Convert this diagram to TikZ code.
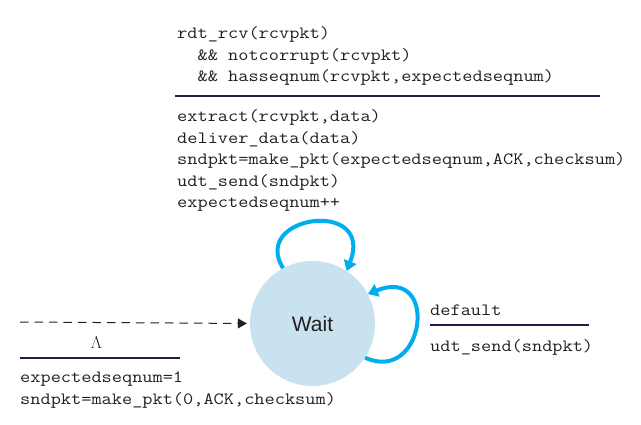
\documentclass[tikz,border=0pt]{standalone}
\usepackage{fontspec}
\setmainfont{Liberation Sans}
\setmonofont{Latin Modern Mono}[FakeStretch=1.15]
\usetikzlibrary{arrows.meta}
\definecolor{loopblue}{RGB}{0,174,239}
\definecolor{statefill}{RGB}{200,226,240}
\definecolor{rulecol}{RGB}{30,30,70}
\definecolor{txt}{RGB}{35,31,32}
\begin{document}
\begin{tikzpicture}[x=1pt,y=-1pt,
  code/.style={font=\fontsize{17.2}{21.5}\selectfont\ttfamily, text=txt, align=left, inner sep=0pt, anchor=north west},
  rulestyle/.style={draw=rulecol, line width=1.1pt},
  selfloop/.style={draw=loopblue, line width=4pt, -{Triangle[length=10pt,width=13pt]}},
  initarrow/.style={draw=txt, line width=1pt, dash pattern=on 8.5pt off 6pt, -{Triangle[length=9pt,width=10pt]}, shorten >=3pt},
  state/.style={circle, fill=statefill, minimum size=125pt, inner sep=0pt, font=\fontsize{21}{24}\selectfont, text=txt}]
\useasboundingbox (0,0) rectangle (641,424);

\node[state] (wait) at (312.5,323.5) {Wait};

% top self-loop label
\node[code] (guard) at (177,26.5) {rdt\_rcv(rcvpkt)\\
\phantom{xx}\&\& notcorrupt(rcvpkt)\\
\phantom{xx}\&\& hasseqnum(rcvpkt,expectedseqnum)};
\coordinate (tr1) at (175,96);
\coordinate (tr2) at (600,96);
\draw[rulestyle] (tr1) -- (tr2);
\node[code] (action) at (177,109.5) {extract(rcvpkt,data)\\
deliver\_data(data)\\
sndpkt=make\_pkt(expectedseqnum,ACK,checksum)\\
udt\_send(sndpkt)\\
expectedseqnum++};

% right self-loop label
\node[code] (defl) at (430,304.5) {default};
\coordinate (rr1) at (430,325);
\coordinate (rr2) at (589,325);
\draw[rulestyle] (rr1) -- (rr2);
\node[code] (udt) at (430,339) {udt\_send(sndpkt)};

% initial transition
\coordinate (init) at (20,322);
\draw[initarrow] (init) -- (wait.west);
\node[text=txt, font=\fontsize{17.5}{20}\selectfont] (lam) at (96.5,343) {$\Lambda$};
\coordinate (lr1) at (20,358);
\coordinate (lr2) at (180,358);
\draw[rulestyle] (lr1) -- (lr2);
\node[code] (initact) at (20,372) {expectedseqnum=1\\
sndpkt=make\_pkt(0,ACK,checksum)};

% self loops
\draw[selfloop] (wait.118) .. controls (250,215) and (375,198) .. (wait.57);
\draw[selfloop] (wait.-33) .. controls (425,385) and (440,265) .. (wait.28);
\end{tikzpicture}
\end{document}
